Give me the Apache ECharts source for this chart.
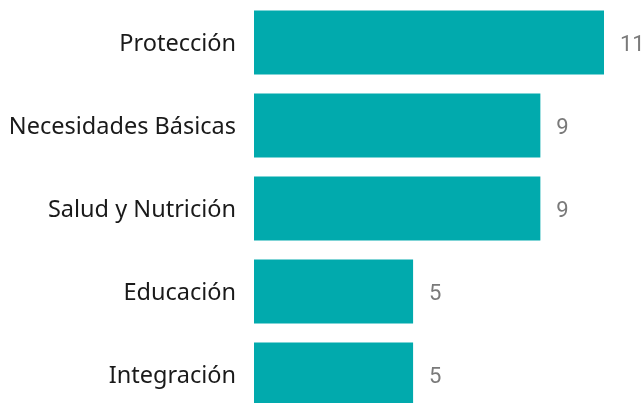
<!DOCTYPE html>
<html>
<head>
<meta charset="utf-8">
<style>
  html, body { margin: 0; padding: 0; background: #fff; }
  #chart { width: 644px; height: 403px; }
</style>
<script src="https://cdn.jsdelivr.net/npm/echarts@6/dist/echarts.min.js"></script>
</head>
<body>
<div id="chart"></div>
<script>
// categories, top to bottom
var categories = ['Protección', 'Necesidades Básicas', 'Salud y Nutrición', 'Educación', 'Integración'];
var values = [11, 9, 9, 5, 5];

var chart = echarts.init(document.getElementById('chart'));
chart.setOption({
  animation: false,
  grid: {
    left: 254,
    right: 40,
    top: 1,
    height: 415,
    outerBoundsMode: 'none'
  },
  xAxis: {
    type: 'value',
    min: 0,
    max: 11,
    show: false
  },
  yAxis: {
    type: 'category',
    inverse: true,
    data: categories,
    axisLine: { show: false },
    axisTick: { show: false },
    axisLabel: {
      margin: 18,
      formatter: function (v) { return '{c|' + v + '}'; },
      rich: {
        c: {
          color: '#1a1a1a',
          fontSize: 23.5,
          fontFamily: 'Noto Sans',
          // nudge text down a little so it sits on the bar centre
          padding: [4, 0, 0, 0]
        }
      }
    }
  },
  series: [
    {
      type: 'bar',
      data: values,
      barWidth: 64,
      itemStyle: { color: '#01aaad' },
      label: {
        show: true,
        position: 'right',
        distance: 16,
        offset: [0, 3],
        color: '#7a7a7a',
        fontSize: 22,
        fontFamily: 'Roboto'
      }
    }
  ]
});
</script>
</body>
</html>
